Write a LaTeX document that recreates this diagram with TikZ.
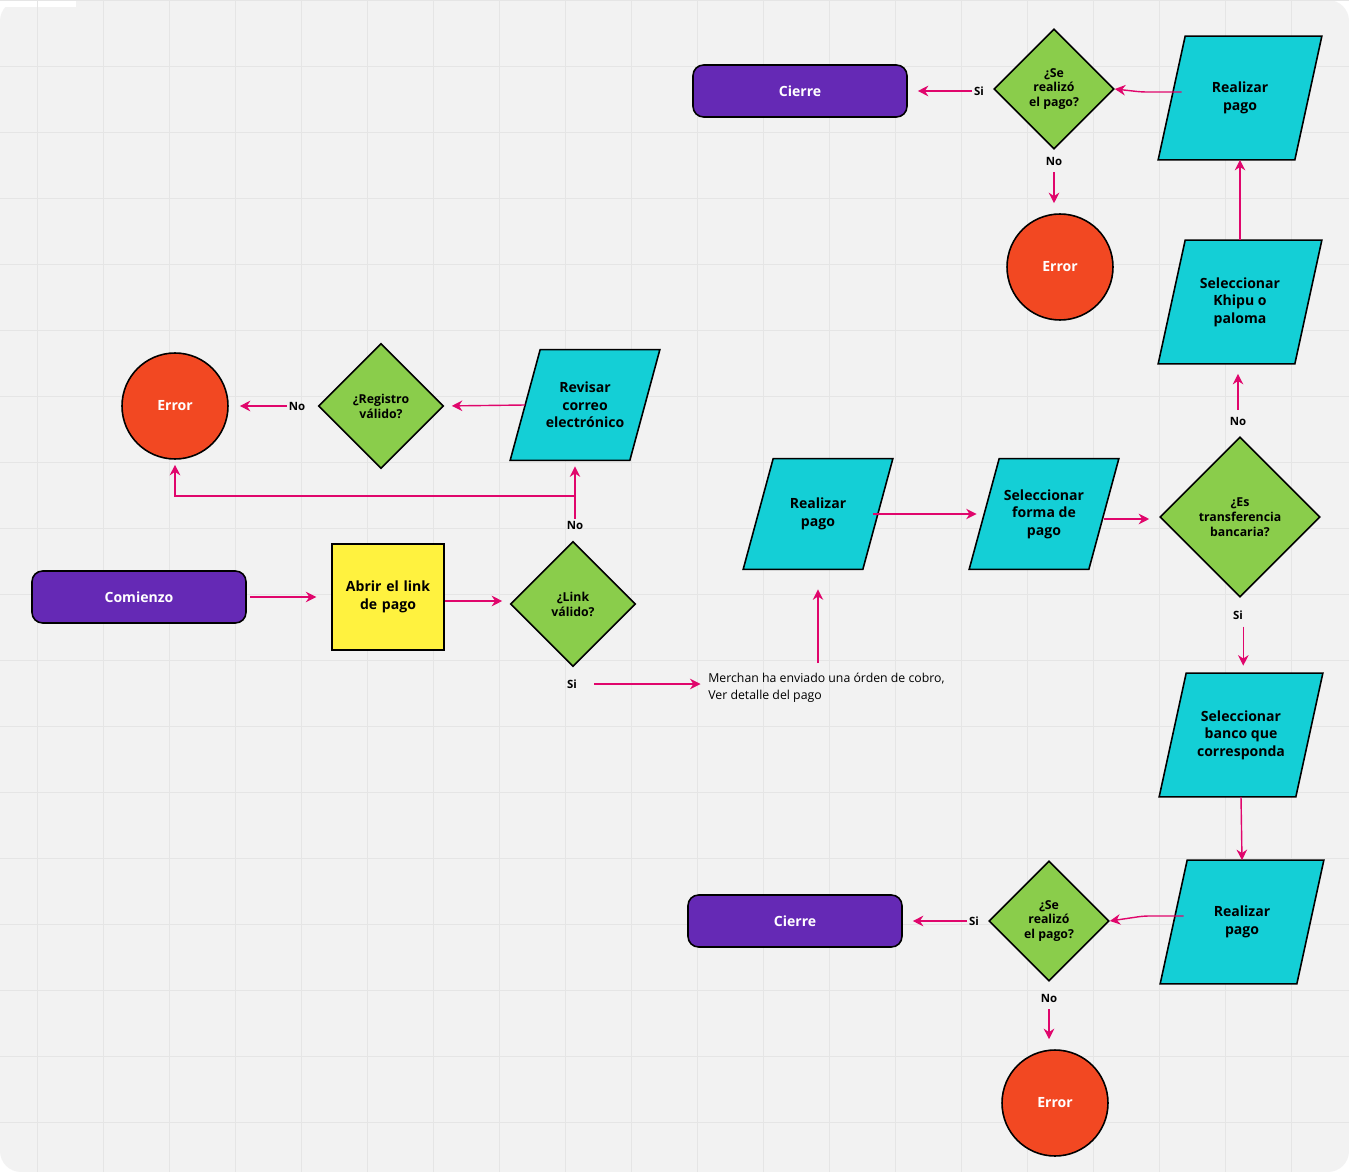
\documentclass[tikz,border=0pt]{standalone}
\usepackage{fontspec}
\setmainfont{Open Sans}
\usetikzlibrary{shapes.geometric,arrows.meta,calc}
\definecolor{purp}{HTML}{6529B5}
\definecolor{grn}{HTML}{8ACD4B}
\definecolor{errred}{HTML}{F24822}
\definecolor{cyn}{HTML}{14CFD6}
\definecolor{yel}{HTML}{FFF23F}
\definecolor{mag}{HTML}{E0066C}
\pgfdeclarelayer{bg}
\pgfdeclarelayer{shp}
\pgfsetlayers{bg,shp,main}
\tikzset{
  base/.style={draw=black, line width=0.9pt, align=center, font=\bfseries\fontsize{8}{10}\selectfont},
  term/.style={base, rounded corners=6pt, fill=purp, text=white, minimum width=4.28cm, minimum height=1.04cm},
  dec/.style={base, diamond, fill=grn, inner sep=0pt, minimum width=2.5cm, minimum height=2.5cm, font=\bfseries\fontsize{7}{8.5}\selectfont},
  bigdec/.style={dec, minimum width=3.2cm, minimum height=3.2cm},
  err/.style={base, circle, fill=errred, text=white, minimum size=2.12cm, inner sep=0pt},
  io/.style={align=center, inner sep=0pt, minimum width=2.38cm, minimum height=2.2cm, font=\bfseries\fontsize{8}{10}\selectfont},
  bigio/.style={io, minimum width=2.72cm, minimum height=2.46cm},
  lbl/.style={font=\bfseries\fontsize{6.5}{8}\selectfont, inner sep=1pt},
  arr/.style={draw=mag, line width=0.8pt, -{Stealth[length=6pt,width=6pt]}},
}
% parallelogram around a named box
\newcommand\paral[2]{%
  \begin{pgfonlayer}{shp}
  \draw[base, fill=cyn] ([xshift=#2]#1.north west) -- ([xshift=#2]#1.north east)
    -- ([xshift=-#2]#1.south east) -- ([xshift=-#2]#1.south west) -- cycle;
  \end{pgfonlayer}}
\begin{document}
\begin{tikzpicture}[x=0.02cm, y=-0.02cm]
  \useasboundingbox (0,0) rectangle (1349,1172);
  % background and grid
  \begin{pgfonlayer}{bg}
    \fill[white] (0,0) rectangle (1349,1172);
    \fill[black!5, rounded corners=12pt] (0,0) rectangle (1349,1172);
    \fill[white] (0,0) rectangle (76,7);
    \foreach \x in {37,103,...,1349} \draw[black!10, line width=0.4pt] (\x,0) -- (\x,1172);
    \foreach \y in {0,66,...,1172} \draw[black!10, line width=0.4pt] (0,\y) -- (1349,\y);
  \end{pgfonlayer}

  % left branch
  \node[term] (com) at (139,597) {Comienzo};
  \node[base, fill=yel, minimum width=2.14cm, minimum height=2.12cm, text width=2cm] (abr) at (388,597) {Abrir el link de pago};
  \node[dec] (lnk) at (573,604) {¿Link\\válido?};
  \node[lbl] (si1) at (572,684) {Si};
  \node[lbl] (no1) at (575,525) {No};
  \node[anchor=west, align=left, font=\fontsize{7}{9.5}\selectfont, inner sep=0pt] (msg) at (708,688)
    {Merchan ha enviado una órden de cobro,\\Ver detalle del pago};
  \node[io] (rev) at (585,405) {Revisar\\correo\\electrónico};
  \paral{rev}{0.3cm}
  \node[dec] (reg) at (381,406) {¿Registro\\válido?};
  \node[lbl] (no2) at (297,406) {No};
  \node[err] (err1) at (175,406) {Error};

  % middle
  \node[io] (rp1) at (818,514) {Realizar\\pago};
  \paral{rp1}{0.3cm}
  \node[io] (sfp) at (1044,514) {Seleccionar\\forma de\\pago};
  \paral{sfp}{0.3cm}
  \node[bigdec] (trf) at (1240,517) {¿Es\\transferencia\\bancaria?};
  \node[lbl] (no3) at (1238,421) {No};
  \node[lbl] (si3) at (1238,615) {Si};

  % upper branch
  \node[bigio] (khi) at (1240,302) {Seleccionar\\Khipu o\\paloma};
  \paral{khi}{0.27cm}
  \node[bigio] (rp2) at (1240,98) {Realizar\\pago};
  \paral{rp2}{0.27cm}
  \node[dec, minimum width=2.4cm, minimum height=2.4cm] (ok1) at (1054,89) {¿Se\\realizó\\el pago?};
  \node[lbl] (si4) at (979,91) {Si};
  \node[lbl] (no4) at (1054,161) {No};
  \node[term] (cie1) at (800,91) {Cierre};
  \node[err] (err2) at (1060,267) {Error};

  % lower branch
  \node[bigio] (ban) at (1241,735) {Seleccionar\\banco que\\corresponda};
  \paral{ban}{0.27cm}
  \node[bigio] (rp3) at (1242,922) {Realizar\\pago};
  \paral{rp3}{0.27cm}
  \node[dec, minimum width=2.4cm, minimum height=2.4cm] (ok2) at (1049,921) {¿Se\\realizó\\el pago?};
  \node[lbl] (si5) at (974,921) {Si};
  \node[lbl] (no5) at (1049,998) {No};
  \node[term] (cie2) at (795,921) {Cierre};
  \node[err] (err3) at (1055,1103) {Error};

  % connectors
  \draw[arr, shorten <=2pt, shorten >=0.3cm] (com.east) -- (abr.west);
  \draw[arr, shorten >=0.15cm] (abr.east |- 0,601) -- (lnk.west |- 0,601);
  \draw[arr, shorten <=0.3cm, shorten >=0.15cm] (si1.east) -- (msg.west |- si1.east);
  \draw[arr] (msg.north -| rp1) ++(0,-10) coordinate (m1) -- ([yshift=-0.4cm]rp1.south);
  \draw[arr, shorten >=0.12cm] (no1.north) -- (no1.north |- rev.south);
  \coordinate (brk) at (576,496);
  \draw[arr, shorten >=0.1cm] (brk) -| (err1.south);
  \draw[arr, shorten >=0.15cm] (rev.west) -- (reg.east);
  \draw[arr, shorten >=0.22cm] (no2.west) -- (err1.east);
  \draw[arr, shorten <=-0.1cm, shorten >=0.15cm] (rp1.east) -- (sfp.west);
  \draw[arr, shorten >=0.2cm] ([yshift=-0.1cm]sfp.east) -- ([yshift=-0.1cm]sfp.east -| trf.west);
  \draw[arr, shorten <=0.1cm, shorten >=0.2cm] (no3.north) -- (no3.north |- khi.south);
  \draw[arr] (khi.north) -- (rp2.south);
  \draw[arr, rounded corners=3pt] ([yshift=0.12cm]rp2.west) ++(0.2cm,0) -- ++(-0.8cm,0) -- (ok1.east);
  \draw[arr, shorten >=0.2cm] (si4.west) -- (cie1.east);
  \draw[arr, shorten <=0.1cm, shorten >=0.2cm] (no4.south) -- (no4.south |- err2.north);
  \draw[arr, shorten <=0.1cm, shorten >=0.15cm] ([xshift=3pt]si3.south) -- ([xshift=3pt]si3.south |- ban.north);
  \draw[arr] (ban.south) -- (rp3.north);
  \draw[arr, rounded corners=3pt] ([yshift=0.12cm]rp3.west) ++(0.2cm,0) -- ++(-0.8cm,0) -- (ok2.east);
  \draw[arr, shorten >=0.2cm] (si5.west) -- (cie2.east);
  \draw[arr, shorten <=0.1cm, shorten >=0.2cm] (no5.south) -- (no5.south |- err3.north);
\end{tikzpicture}
\end{document}
